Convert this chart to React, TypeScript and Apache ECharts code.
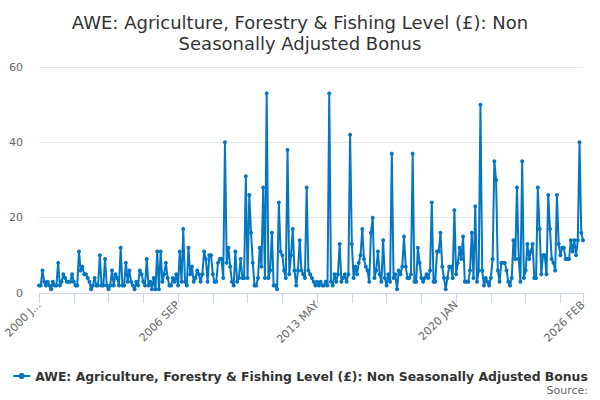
import React, { useEffect, useRef } from "react";
import * as echarts from "echarts";

const MONTHS = ["JAN", "FEB", "MAR", "APR", "MAY", "JUN", "JUL", "AUG", "SEP", "OCT", "NOV", "DEC"];
const FIRST_YEAR = 2000;
const LAST_YEAR = 2026;
const LAST_MONTH_COUNT = 2; // 2026 JAN, FEB

const categories: string[] = [];
for (let y = FIRST_YEAR; y <= LAST_YEAR; y++) {
  const n = y === LAST_YEAR ? LAST_MONTH_COUNT : 12;
  for (let m = 0; m < n; m++) categories.push(`${y} ${MONTHS[m]}`);
}

const SERIES_NAME = "AWE: Agriculture, Forestry & Fishing Level (£): Non Seasonally Adjusted Bonus";

const v2000 = [2, 2, 6, 3, 2, 3, 2, 1, 3, 2, 2, 8];
const v2001 = [2, 3, 5, 4, 3, 3, 3, 5, 3, 2, 2, 11];
const v2002 = [6, 7, 5, 5, 4, 3, 1, 2, 4, 2, 2, 10];
const v2003 = [2, 2, 9, 2, 1, 2, 6, 2, 5, 4, 2, 12];
const v2004 = [2, 2, 8, 3, 6, 3, 2, 1, 3, 2, 6, 5];
const v2005 = [3, 2, 9, 2, 3, 1, 4, 1, 11, 1, 11, 3];
const v2006 = [5, 8, 4, 2, 2, 4, 3, 5, 2, 11, 3, 17];
const v2007 = [3, 2, 12, 5, 7, 3, 4, 6, 5, 3, 5, 11];
const v2008 = [9, 3, 10, 10, 5, 3, 3, 8, 9, 9, 4, 40];
const v2009 = [8, 12, 7, 3, 2, 11, 3, 4, 9, 4, 4, 31];
const v2010 = [4, 26, 16, 8, 2, 2, 4, 12, 7, 28, 4, 53];
const v2011 = [4, 6, 16, 2, 2, 1, 24, 11, 10, 6, 4, 38];
const v2012 = [5, 10, 17, 6, 2, 6, 14, 6, 5, 4, 28, 6];
const v2013 = [5, 4, 3, 2, 3, 2, 3, 2, 2, 3, 2, 53];
const v2014 = [3, 2, 5, 3, 5, 13, 3, 4, 5, 3, 5, 42];
const v2015 = [13, 4, 7, 5, 8, 10, 17, 9, 7, 6, 3, 16];
const v2016 = [20, 4, 6, 11, 5, 3, 14, 4, 2, 5, 3, 37];
const v2017 = [4, 5, 1, 6, 5, 7, 15, 7, 4, 4, 5, 37];
const v2018 = [3, 3, 12, 8, 4, 3, 4, 5, 4, 6, 24, 3];
const v2019 = [3, 11, 11, 16, 7, 4, 1, 4, 7, 7, 4, 22];
const v2020 = [5, 8, 12, 9, 15, 3, 3, 3, 6, 16, 4, 23];
const v2021 = [3, 6, 50, 6, 2, 4, 3, 2, 4, 9, 35, 30];
const v2022 = [6, 3, 8, 8, 8, 6, 3, 2, 4, 14, 9, 28];
const v2023 = [9, 3, 35, 4, 6, 13, 9, 11, 13, 4, 4, 28];
const v2024 = [17, 5, 10, 10, 5, 26, 17, 9, 8, 6, 26, 13];
const v2025 = [10, 12, 12, 9, 9, 9, 14, 11, 14, 10, 14, 40];
const v2026 = [16, 14];

const values: number[] = [
  ...v2000, ...v2001, ...v2002, ...v2003, ...v2004, ...v2005, ...v2006,
  ...v2007, ...v2008, ...v2009, ...v2010, ...v2011, ...v2012, ...v2013,
  ...v2014, ...v2015, ...v2016, ...v2017, ...v2018, ...v2019, ...v2020,
  ...v2021, ...v2022, ...v2023, ...v2024, ...v2025, ...v2026,
];

const Y_TICKS = [0, 20, 40, 60];
const TITLE = "AWE: Agriculture, Forestry & Fishing Level (£): Non\nSeasonally Adjusted Bonus";

export default function App() {
  const ref = useRef<HTMLDivElement>(null);

  useEffect(() => {
    if (!ref.current) return;
    const chart = echarts.init(ref.current, undefined, { renderer: "svg" });
    const last = categories.length - 1;
    const color = "#0576c2";
    chart.setOption({
      animation: false,
      textStyle: { fontFamily: "DejaVu Sans" },
      title: {
        text: TITLE,
        left: "center",
        top: 7,
        textStyle: {
          fontFamily: "DejaVu Sans",
          fontSize: 18,
          fontWeight: "normal",
          color: "#333333",
          lineHeight: 21,
        },
      },
      grid: { left: 39, right: 17, top: 67, bottom: 107 },
      xAxis: {
        type: "category",
        data: categories,
        boundaryGap: false,
        axisLine: { lineStyle: { color: "#ccd6eb" } },
        axisTick: {
          interval: (i: number) => i % 20 === 0 || i === last,
          length: 10,
          lineStyle: { color: "#ccd6eb" },
        },
        axisLabel: {
          interval: (i: number) => i % 80 === 0 || i === last,
          rotate: 45,
          color: "#666666",
          fontSize: 11,
          fontFamily: "DejaVu Sans",
          margin: 10,
          formatter: (val: string, idx: number) => (idx === 0 ? val.slice(0, 6) + "..." : val),
        },
        splitLine: { show: false },
      },
      yAxis: {
        type: "value",
        min: Y_TICKS[0],
        max: Y_TICKS[Y_TICKS.length - 1],
        interval: 20,
        axisLabel: { color: "#666666", fontSize: 11, margin: 16, fontFamily: "DejaVu Sans" },
        axisLine: { show: false },
        axisTick: { show: false },
        splitLine: { lineStyle: { color: "#e6e6e6" } },
      },
      legend: {
        left: "center",
        top: 365,
        itemWidth: 17,
        itemHeight: 8,
        itemGap: 6,
        textStyle: { fontWeight: "bold", fontSize: 12.4, color: "#333333", fontFamily: "DejaVu Sans" },
      },
      series: [
        {
          type: "line",
          name: SERIES_NAME,
          data: values,
          symbol: "circle",
          symbolSize: 4,
          showAllSymbol: true,
          lineStyle: { width: 2, color },
          itemStyle: { color },
        },
      ],
      graphic: [
        {
          type: "text",
          right: 12,
          top: 385,
          style: { text: "Source:", fill: "#666666", fontSize: 11, fontFamily: "DejaVu Sans" },
        },
      ],
    });
    return () => chart.dispose();
  }, []);

  return (
    <div
      ref={ref}
      style={{ position: "absolute", left: 0, top: 0, width: 600, height: 400 }}
    />
  );
}
